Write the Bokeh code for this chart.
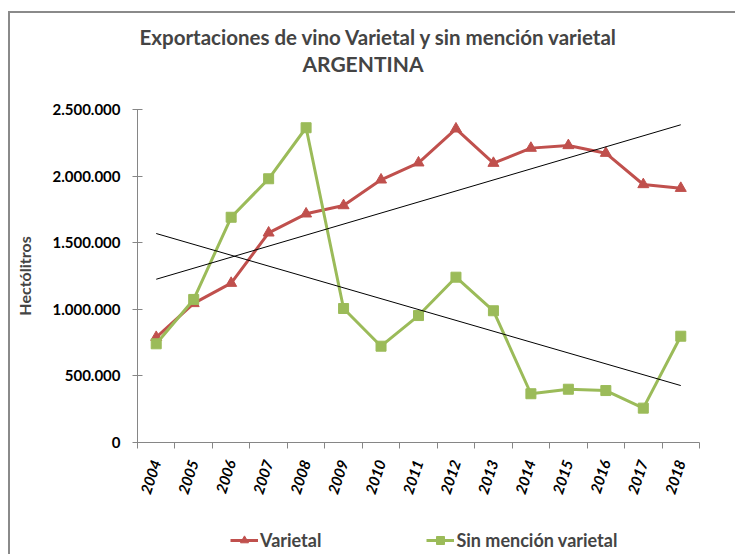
import numpy as np
from bokeh.plotting import figure
from bokeh.models import (Range1d, FixedTicker, Title, Legend, LegendItem)
from bokeh.layouts import column
from bokeh.embed import file_html
from bokeh.resources import INLINE

years = ["2004", "2005", "2006", "2007", "2008", "2009", "2010", "2011",
         "2012", "2013", "2014", "2015", "2016", "2017", "2018"]
varietal = [790000, 1044000, 1196000, 1574000, 1717000, 1779000, 1972000, 2100000,
            2355000, 2097000, 2210000, 2230000, 2172000, 1937000, 1909000]
sin_mencion = [741000, 1074000, 1691000, 1980000, 2363000, 1006000, 723000, 953000,
               1241000, 989000, 366000, 400000, 390000, 258000, 798000]
y_ticks = [0, 500000, 1000000, 1500000, 2000000, 2500000]
y_tick_labels = ["0", "500.000", "1.000.000", "1.500.000", "2.000.000", "2.500.000"]

FONT = "Lato"
RED = "#C0504D"
GREEN = "#9BBB59"
AXIS = "#868686"

xs = list(range(len(years)))

p = figure(width=725, height=487, output_backend="svg", toolbar_location=None,
           x_range=Range1d(-0.5, len(years) - 0.5), y_range=Range1d(0, 2500000),
           min_border_left=127, min_border_right=36, min_border_top=96,
           min_border_bottom=58)
p.outline_line_color = None
p.grid.visible = False

# titles (later-added goes farther from frame); a white spacer first
p.add_layout(Title(text=".", text_font_size="1px", text_color="white",
                   standoff=31), "above")
p.add_layout(Title(text="ARGENTINA", align="left", text_font=FONT,
                   text_font_size="21px", text_font_style="bold", offset=165,
                   standoff=0), "above")
p.add_layout(Title(text="Exportaciones de vino Varietal y sin mención varietal",
                   align="left", text_font=FONT, text_font_size="20.5px",
                   text_font_style="bold", offset=2, standoff=0), "above")

# x axis
xa = p.xaxis[0]
xa.ticker = FixedTicker(ticks=xs, minor_ticks=[i - 0.5 for i in range(len(years) + 1)])
xa.major_label_overrides = {i: y for i, y in zip(xs, years)}
xa.major_label_orientation = 1.25
xa.major_label_text_font = FONT
xa.major_label_text_font_size = "15px"
xa.major_label_text_font_style = "bold italic"
xa.major_label_text_color = "black"
xa.major_tick_in = 0
xa.major_tick_out = 0
xa.minor_tick_in = 0
xa.minor_tick_out = 6
xa.minor_tick_line_color = AXIS
xa.axis_line_color = AXIS
xa.major_label_standoff = 12

# y axis
ya = p.yaxis[0]
ya.ticker = FixedTicker(ticks=y_ticks)
ya.major_label_overrides = {t: l for t, l in zip(y_ticks, y_tick_labels)}
ya.major_label_text_font = FONT
ya.major_label_text_font_size = "15px"
ya.major_label_text_font_style = "bold"
ya.major_label_text_color = "black"
ya.major_tick_in = 5
ya.major_tick_out = 5
ya.major_tick_line_color = AXIS
ya.minor_tick_line_color = None
ya.axis_line_color = AXIS
ya.major_label_standoff = 12
ya.axis_label = "Hectólitros"
ya.axis_label_text_font = FONT
ya.axis_label_text_font_size = "16px"
ya.axis_label_text_font_style = "bold"
ya.axis_label_standoff = 15

# series
def draw_series(fig):
    a = fig.line(xs, varietal, line_color=RED, line_width=3)
    b = fig.scatter(xs, varietal, marker="triangle", size=11, fill_color=RED, line_color=RED)
    c = fig.line(xs, sin_mencion, line_color=GREEN, line_width=3)
    d = fig.scatter(xs, sin_mencion, marker="square", size=10, fill_color=GREEN, line_color=GREEN)
    return a, b, c, d

draw_series(p)

# linear trend lines (least squares)
for vals in (varietal, sin_mencion):
    k, b = np.polyfit(xs, vals, 1)
    ends = [xs[0], xs[-1]]
    p.line(ends, [k * e + b for e in ends], line_color="black", line_width=1)

# legend in its own strip below the chart (series drawn out of view there)
lg = figure(width=725, height=54, output_backend="svg", toolbar_location=None,
            x_range=Range1d(100, 101), y_range=Range1d(0, 1),
            min_border=0, min_border_left=0, min_border_right=0,
            min_border_top=0, min_border_bottom=0)
lg.axis.visible = False
lg.grid.visible = False
lg.outline_line_color = None
r1, m1, r2, m2 = draw_series(lg)
legend = Legend(items=[LegendItem(label="Varietal", renderers=[r1, m1]),
                       LegendItem(label="Sin mención varietal", renderers=[r2, m2])],
                orientation="horizontal", location=(93, 3),
                label_text_font=FONT, label_text_font_size="18px",
                label_text_font_style="bold",
                glyph_width=28, label_standoff=2,
                spacing=105, border_line_color=None, background_fill_alpha=0,
                margin=0, padding=4)
lg.add_layout(legend, "center")

layout = column(p, lg, spacing=0)
layout.styles = {"margin-left": "8px", "margin-top": "11px",
                 "border-left": "2px solid #8a8a8a", "border-top": "2px solid #8a8a8a"}

open("out.html", "w").write(file_html(layout, INLINE))
